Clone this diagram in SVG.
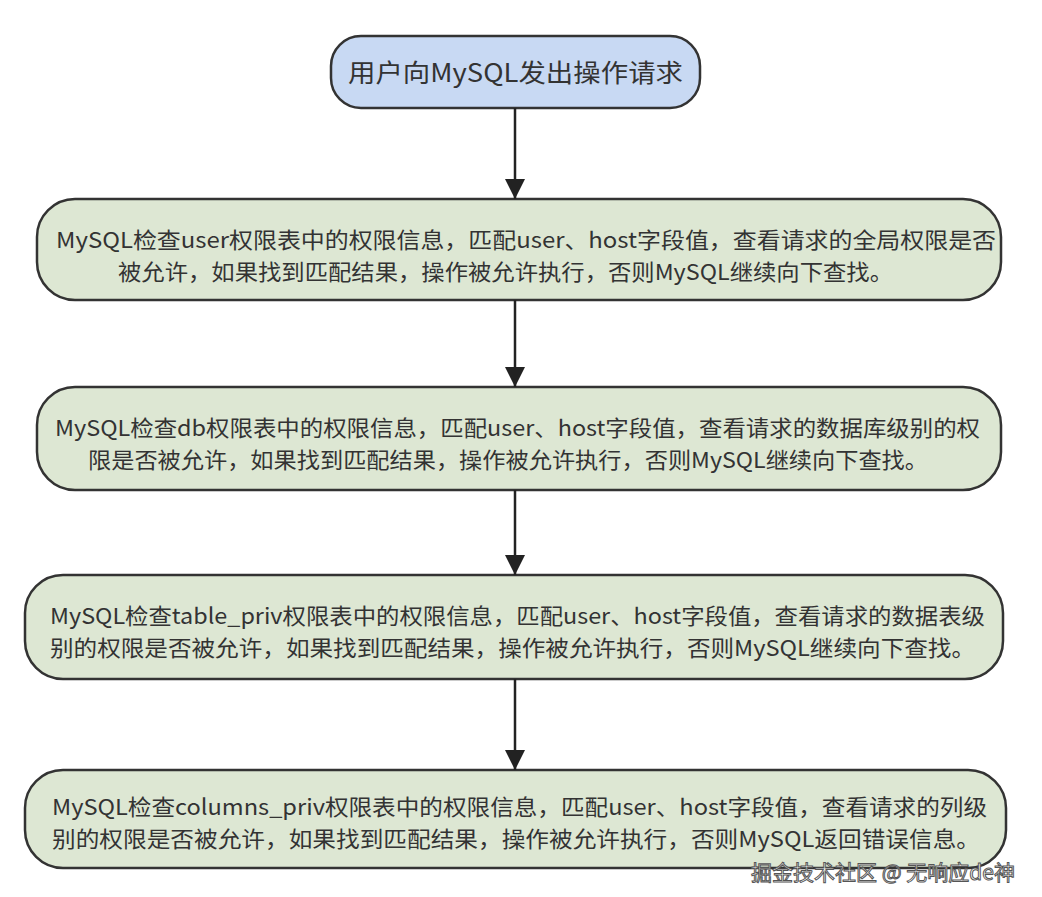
<svg xmlns="http://www.w3.org/2000/svg" width="1042" height="897" viewBox="0 0 1042 897">
<style>
.b{fill:#dde7d3;stroke:#333;stroke-width:2.5}
.t{font-family:"Noto Sans CJK SC","Noto Sans",sans-serif;font-size:22px;fill:#333}
</style>
<defs><marker id="a2" viewBox="0 0 20 20" refX="20" refY="10" markerWidth="20" markerHeight="20" markerUnits="userSpaceOnUse" orient="auto"><path d="M0,0L20,10L0,20z" fill="#222"/></marker></defs>
<rect width="1042" height="897" fill="#fff"/>
<g id="n0"><rect x="331" y="36" width="369" height="72" rx="30" fill="#c8d9f3" stroke="#333" stroke-width="2.5"/><text class="t" x="348" y="82" style="font-size:25px" textLength="335" lengthAdjust="spacingAndGlyphs">用户向MySQL发出操作请求</text></g>
<g id="n1"><rect class="b" x="37" y="199" width="964" height="101" rx="38"/><text class="t" x="56" y="248" textLength="940" lengthAdjust="spacingAndGlyphs">MySQL检查user权限表中的权限信息，匹配user、host字段值，查看请求的全局权限是否</text><text class="t" x="118" y="280" textLength="775" lengthAdjust="spacingAndGlyphs">被允许，如果找到匹配结果，操作被允许执行，否则MySQL继续向下查找。</text></g>
<g id="n2"><rect class="b" x="37" y="387" width="964" height="103" rx="38"/><text class="t" x="55" y="436" textLength="925" lengthAdjust="spacingAndGlyphs">MySQL检查db权限表中的权限信息，匹配user、host字段值，查看请求的数据库级别的权</text><text class="t" x="88" y="468" textLength="840" lengthAdjust="spacingAndGlyphs">限是否被允许，如果找到匹配结果，操作被允许执行，否则MySQL继续向下查找。</text></g>
<g id="n3"><rect class="b" x="25" y="575" width="978" height="104" rx="38"/><text class="t" x="50" y="624" textLength="935" lengthAdjust="spacingAndGlyphs">MySQL检查table_priv权限表中的权限信息，匹配user、host字段值，查看请求的数据表级</text><text class="t" x="50" y="656" textLength="925" lengthAdjust="spacingAndGlyphs">别的权限是否被允许，如果找到匹配结果，操作被允许执行，否则MySQL继续向下查找。</text></g>
<g id="n4"><rect class="b" x="25" y="770" width="981" height="98" rx="38"/><text class="t" x="52" y="815" textLength="935" lengthAdjust="spacingAndGlyphs">MySQL检查columns_priv权限表中的权限信息，匹配user、host字段值，查看请求的列级</text><text class="t" x="52" y="847" textLength="928" lengthAdjust="spacingAndGlyphs">别的权限是否被允许，如果找到匹配结果，操作被允许执行，否则MySQL返回错误信息。</text></g>
<g id="connectors">
<path d="M515 108V199" stroke="#222" stroke-width="2.5" marker-end="url(#a2)"/>
<path d="M515 300V387" stroke="#222" stroke-width="2.5" marker-end="url(#a2)"/>
<path d="M515 490V575" stroke="#222" stroke-width="2.5" marker-end="url(#a2)"/>
<path d="M515 679V770" stroke="#222" stroke-width="2.5" marker-end="url(#a2)"/>
</g>
<text x="1015" y="880" style="font-family:'Noto Sans CJK SC',sans-serif;font-size:21px;text-anchor:end;fill:#fff;stroke:#555;stroke-width:1">掘金技术社区 @ 无响应de神</text>
</svg>
